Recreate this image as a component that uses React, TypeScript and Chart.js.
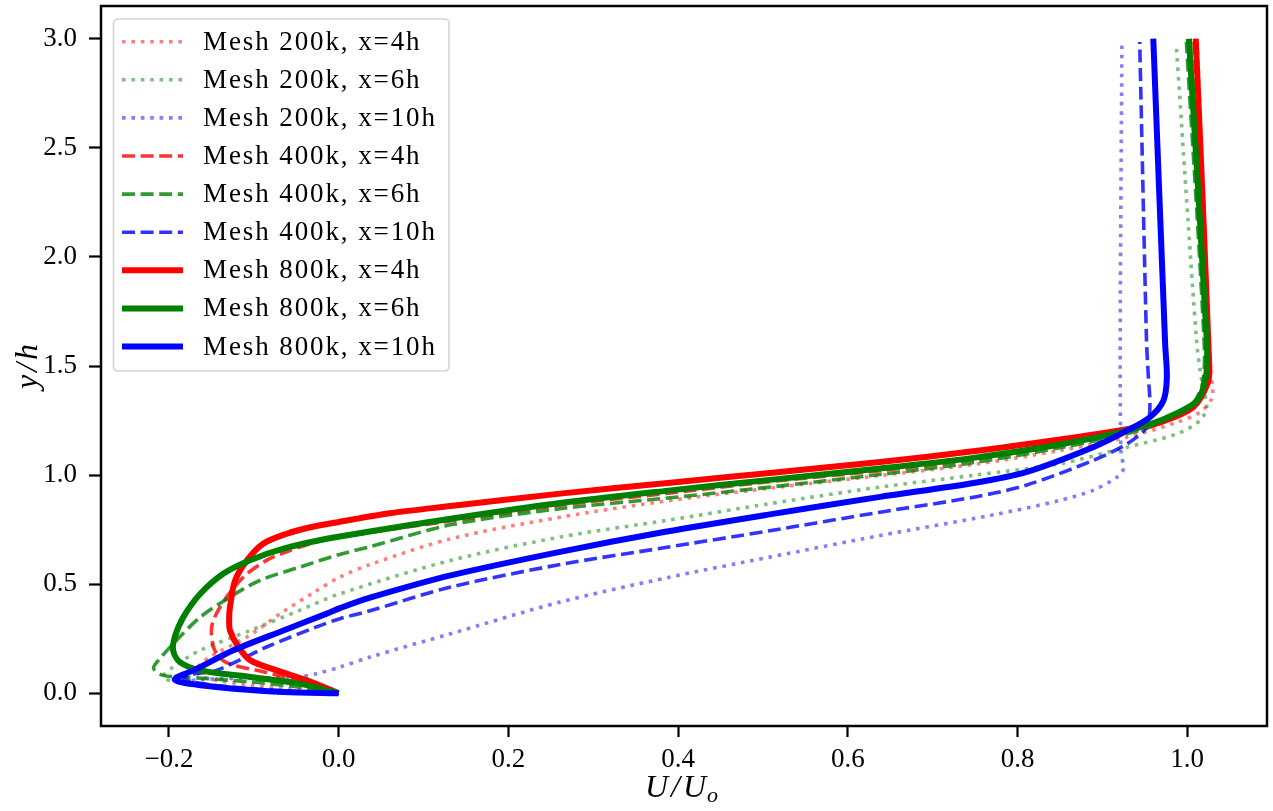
import { useEffect, useRef } from "react";
import { Chart, registerables } from "chart.js";

Chart.register(...registerables);

// ---- axes ----
const X_MIN = -0.28;
const X_MAX = 1.094;
const Y_MIN = -0.15;
const Y_MAX = 3.15;
const X_TICKS = [-0.2, 0.0, 0.2, 0.4, 0.6, 0.8, 1.0];
const Y_TICKS = [0.0, 0.5, 1.0, 1.5, 2.0, 2.5, 3.0];
const X_LABEL = "U/U";
const X_LABEL_SUB = "o";
const Y_LABEL = "y/h";

// ---- series labels ----
const LABELS = [
  "Mesh 200k, x=4h",
  "Mesh 200k, x=6h",
  "Mesh 200k, x=10h",
  "Mesh 400k, x=4h",
  "Mesh 400k, x=6h",
  "Mesh 400k, x=10h",
  "Mesh 800k, x=4h",
  "Mesh 800k, x=6h",
  "Mesh 800k, x=10h",
];

// ---- Mesh 200k ----
const M200_X4_U = [0, -0.06, -0.12, -0.16, -0.168, -0.15, -0.108, -0.065, -0.03, 0.0, 0.037, 0.132, 0.261, 0.391, 0.508, 0.638, 0.75, 0.85, 0.929, 0.988, 1.015, 1.029, 1.03, 1.027, 1.012];
const M200_X4_Y = [0, 0.02, 0.045, 0.075, 0.11, 0.17, 0.258, 0.375, 0.46, 0.53, 0.59, 0.708, 0.807, 0.884, 0.94, 0.998, 1.05, 1.113, 1.174, 1.242, 1.288, 1.349, 1.39, 1.5, 2.97];

const M200_X6_U = [0, -0.07, -0.14, -0.19, -0.207, -0.195, -0.163, -0.104, -0.046, 0.0015, 0.132, 0.261, 0.391, 0.508, 0.638, 0.75, 0.85, 0.929, 0.988, 1.015, 1.023, 1.018, 1.011, 0.987];
const M200_X6_Y = [0, 0.012, 0.03, 0.05, 0.075, 0.12, 0.197, 0.288, 0.38, 0.456, 0.609, 0.716, 0.795, 0.869, 0.945, 1.0, 1.052, 1.128, 1.189, 1.25, 1.311, 1.41, 1.616, 2.975];

const M200_X10_U = [0, -0.08, -0.15, -0.18, -0.165, -0.1, -0.046, -0.026, 0.0015, 0.037, 0.132, 0.261, 0.391, 0.508, 0.638, 0.768, 0.85, 0.889, 0.917, 0.925, 0.922, 0.921, 0.923];
const M200_X10_Y = [0, 0.012, 0.03, 0.048, 0.062, 0.07, 0.075, 0.09, 0.12, 0.166, 0.273, 0.418, 0.533, 0.624, 0.723, 0.815, 0.884, 0.93, 0.99, 1.03, 1.1, 1.6, 2.97];

// ---- Mesh 400k ----
const M400_X4_U = [0, -0.045, -0.09, -0.132, -0.146, -0.15, -0.146, -0.132, -0.112, -0.085, -0.057, -0.03, 0.0, 0.05, 0.132, 0.261, 0.391, 0.508, 0.638, 0.75, 0.85, 0.929, 0.97, 1.01, 1.022, 1.024, 1.008];
const M400_X4_Y = [0, 0.055, 0.1, 0.14, 0.197, 0.288, 0.349, 0.441, 0.533, 0.609, 0.655, 0.69, 0.715, 0.745, 0.79, 0.862, 0.918, 0.97, 1.02, 1.072, 1.138, 1.2, 1.25, 1.33, 1.42, 1.6, 2.985];

const M400_X6_U = [0, -0.05, -0.104, -0.183, -0.207, -0.218, -0.214, -0.191, -0.163, -0.128, -0.093, -0.046, 0.0, 0.037, 0.132, 0.261, 0.391, 0.508, 0.638, 0.75, 0.85, 0.929, 0.97, 1.005, 1.018, 1.02, 0.999];
const M400_X6_Y = [0, 0.03, 0.052, 0.075, 0.082, 0.113, 0.143, 0.243, 0.349, 0.441, 0.517, 0.578, 0.635, 0.672, 0.772, 0.846, 0.896, 0.945, 1.003, 1.058, 1.125, 1.19, 1.24, 1.32, 1.42, 1.6, 2.985];

const M400_X10_U = [0, -0.07, -0.13, -0.17, -0.183, -0.175, -0.144, -0.085, -0.026, 0.0015, 0.037, 0.132, 0.261, 0.385, 0.508, 0.638, 0.75, 0.811, 0.889, 0.929, 0.952, 0.956, 0.954, 0.952, 0.944];
const M400_X10_Y = [0, 0.012, 0.03, 0.05, 0.068, 0.085, 0.105, 0.212, 0.304, 0.342, 0.378, 0.487, 0.59, 0.668, 0.745, 0.83, 0.9, 0.955, 1.067, 1.143, 1.219, 1.311, 1.464, 1.616, 2.985];

// ---- Mesh 800k ----
const M800_X4_U = [0, -0.038, -0.073, -0.104, -0.118, -0.128, -0.129, -0.128, -0.122, -0.108, -0.089, -0.062, -0.032, 0.0, 0.06, 0.132, 0.261, 0.391, 0.508, 0.638, 0.75, 0.85, 0.929, 0.968, 1.007, 1.024, 1.026, 1.01];
const M800_X4_Y = [0, 0.06, 0.105, 0.151, 0.212, 0.288, 0.34, 0.395, 0.517, 0.609, 0.685, 0.73, 0.762, 0.785, 0.825, 0.858, 0.915, 0.965, 1.01, 1.06, 1.11, 1.163, 1.21, 1.242, 1.311, 1.42, 1.5, 3.0];

const M800_X6_U = [0, -0.046, -0.104, -0.163, -0.187, -0.195, -0.193, -0.183, -0.163, -0.136, -0.105, -0.065, -0.014, 0.033, 0.132, 0.261, 0.391, 0.508, 0.638, 0.75, 0.85, 0.929, 0.968, 1.01, 1.022, 1.023, 1.002];
const M800_X6_Y = [0, 0.044, 0.075, 0.105, 0.143, 0.197, 0.258, 0.349, 0.456, 0.548, 0.609, 0.663, 0.708, 0.739, 0.8, 0.872, 0.93, 0.978, 1.03, 1.08, 1.14, 1.204, 1.25, 1.335, 1.45, 1.62, 3.0];

const M800_X10_U = [0, -0.065, -0.124, -0.163, -0.185, -0.193, -0.19, -0.171, -0.124, -0.065, -0.014, 0.0015, 0.037, 0.132, 0.261, 0.385, 0.508, 0.638, 0.75, 0.811, 0.889, 0.929, 0.956, 0.972, 0.976, 0.974, 0.96];
const M800_X10_Y = [0, 0.006, 0.021, 0.037, 0.05, 0.062, 0.075, 0.105, 0.197, 0.288, 0.365, 0.39, 0.438, 0.54, 0.648, 0.74, 0.82, 0.9, 0.965, 1.015, 1.128, 1.204, 1.265, 1.342, 1.448, 1.6, 3.0];

const SERIES_U = [M200_X4_U, M200_X6_U, M200_X10_U, M400_X4_U, M400_X6_U, M400_X10_U, M800_X4_U, M800_X6_U, M800_X10_U];
const SERIES_Y = [M200_X4_Y, M200_X6_Y, M200_X10_Y, M400_X4_Y, M400_X6_Y, M400_X10_Y, M800_X4_Y, M800_X6_Y, M800_X10_Y];

// ---- styles ----
const BASE_RGB = ["255,0,0", "0,128,0", "0,0,255"];
const MESH_ALPHA = [0.5, 0.8, 1.0];
const MESH_WIDTH = [3.6, 3.6, 6.0];
const MESH_DASH = [[3.6, 5.8], [13, 5.6], []];

const FONT = '"Liberation Serif", "Times New Roman", serif';

function styleOf(i: number) {
  const mesh = Math.floor(i / 3);
  const loc = i % 3;
  return {
    color: `rgba(${BASE_RGB[loc]},${MESH_ALPHA[mesh]})`,
    width: MESH_WIDTH[mesh],
    dash: MESH_DASH[mesh],
  };
}

const overlayPlugin = {
  id: "overlay",
  afterDatasetsDraw(chart: any) {
    const { ctx, chartArea: a } = chart;
    ctx.save();
    // frame
    ctx.setLineDash([]);
    ctx.strokeStyle = "#000";
    ctx.lineWidth = 2.5;
    ctx.strokeRect(a.left, a.top, a.right - a.left, a.bottom - a.top);

    // legend
    const bx = 113.5, by = 19, bw = 335.5, bh = 352, r = 5;
    ctx.beginPath();
    ctx.moveTo(bx + r, by);
    ctx.lineTo(bx + bw - r, by);
    ctx.quadraticCurveTo(bx + bw, by, bx + bw, by + r);
    ctx.lineTo(bx + bw, by + bh - r);
    ctx.quadraticCurveTo(bx + bw, by + bh, bx + bw - r, by + bh);
    ctx.lineTo(bx + r, by + bh);
    ctx.quadraticCurveTo(bx, by + bh, bx, by + bh - r);
    ctx.lineTo(bx, by + r);
    ctx.quadraticCurveTo(bx, by, bx + r, by);
    ctx.closePath();
    ctx.fillStyle = "rgba(255,255,255,0.8)";
    ctx.fill();
    ctx.strokeStyle = "#d4d4d4";
    ctx.lineWidth = 1.6;
    ctx.stroke();

    ctx.font = `27px ${FONT}`;
    ctx.textAlign = "left";
    ctx.textBaseline = "alphabetic";
    if ("letterSpacing" in ctx) (ctx as any).letterSpacing = "1.9px";
    LABELS.forEach((lab, i) => {
      const cy = 41.7 + i * 38.1;
      const s = styleOf(i);
      ctx.beginPath();
      ctx.setLineDash(s.dash);
      ctx.lineCap = "butt";
      ctx.strokeStyle = s.color;
      ctx.lineWidth = s.width;
      ctx.moveTo(122, cy);
      ctx.lineTo(183, cy);
      ctx.stroke();
      ctx.setLineDash([]);
      ctx.fillStyle = "#000";
      ctx.fillText(lab, 203, cy + 8);
    });
    if ("letterSpacing" in ctx) (ctx as any).letterSpacing = "0px";
    ctx.restore();
  },
  afterDraw(chart: any) {
    const { ctx } = chart;
    ctx.save();
    ctx.fillStyle = "#000";
    if ("letterSpacing" in ctx) (ctx as any).letterSpacing = "3px";
    // x label
    ctx.font = `italic 32px ${FONT}`;
    const mainW = ctx.measureText(X_LABEL).width;
    ctx.font = `italic 22px ${FONT}`;
    const subW = ctx.measureText(X_LABEL_SUB).width;
    const total = mainW + subW;
    const x0 = 684 - total / 2;
    ctx.textAlign = "left";
    ctx.textBaseline = "alphabetic";
    ctx.font = `italic 32px ${FONT}`;
    ctx.fillText(X_LABEL, x0, 797);
    ctx.font = `italic 22px ${FONT}`;
    ctx.fillText(X_LABEL_SUB, x0 + mainW - 2, 802);
    // y label
    ctx.translate(37, 365);
    ctx.rotate(-Math.PI / 2);
    ctx.font = `italic 32px ${FONT}`;
    ctx.textAlign = "center";
    ctx.fillText(Y_LABEL, 0, 0);
    ctx.restore();
  },
};

export default function App() {
  const ref = useRef<HTMLCanvasElement | null>(null);

  useEffect(() => {
    if (!ref.current) return;
    const datasets = LABELS.map((lab, i) => {
      const s = styleOf(i);
      return {
        label: lab,
        data: SERIES_U[i].map((u, k) => ({ x: u, y: SERIES_Y[i][k] })),
        showLine: true,
        borderColor: s.color,
        backgroundColor: s.color,
        borderWidth: s.width,
        borderDash: s.dash,
        borderCapStyle: "butt" as const,
        borderJoinStyle: "round" as const,
        pointRadius: 0,
        pointHoverRadius: 0,
        tension: 0.3,
        fill: false,
        order: 8 - i,
      };
    });

    const zeroPad = (scale: any) => {
      scale.paddingTop = 0;
      scale.paddingBottom = 0;
      scale.paddingLeft = 0;
      scale.paddingRight = 0;
    };

    const chart = new Chart(ref.current, {
      type: "scatter",
      data: { datasets },
      options: {
        responsive: false,
        animation: false,
        events: [],
        layout: { padding: { left: 0, top: 6, right: 6, bottom: 0 } },
        plugins: {
          legend: { display: false },
          tooltip: { enabled: false },
        },
        scales: {
          x: {
            type: "linear",
            position: "bottom",
            min: X_MIN,
            max: X_MAX,
            border: { display: false },
            grid: {
              drawOnChartArea: false,
              drawTicks: true,
              tickLength: 11,
              tickWidth: 2.2,
              tickColor: "#000",
            },
            ticks: {
              color: "#000",
              font: { family: FONT, size: 27 },
              padding: 7,
              maxRotation: 0,
              callback: (v: any) => (v < 0 ? "\u2212" : "") + Math.abs(Number(v)).toFixed(1),
            },
            afterBuildTicks: (scale: any) => {
              scale.ticks = X_TICKS.map((v) => ({ value: v }));
            },
            afterFit: (scale: any) => {
              scale.height = 85;
              zeroPad(scale);
            },
          },
          y: {
            type: "linear",
            min: Y_MIN,
            max: Y_MAX,
            border: { display: false },
            grid: {
              drawOnChartArea: false,
              drawTicks: true,
              tickLength: 12,
              tickWidth: 2.2,
              tickColor: "#000",
            },
            ticks: {
              color: "#000",
              font: { family: FONT, size: 27 },
              padding: 12,
              callback: (v: any) => Number(v).toFixed(1),
            },
            afterBuildTicks: (scale: any) => {
              scale.ticks = Y_TICKS.map((v) => ({ value: v }));
            },
            afterFit: (scale: any) => {
              scale.width = 101;
              zeroPad(scale);
            },
          },
        },
      },
      plugins: [overlayPlugin],
    });
    return () => chart.destroy();
  }, []);

  return (
    <div style={{ position: "absolute", left: 0, top: 0, width: 1273, height: 811, background: "#fff" }}>
      <canvas ref={ref} width={1273} height={811} style={{ display: "block" }} />
    </div>
  );
}
